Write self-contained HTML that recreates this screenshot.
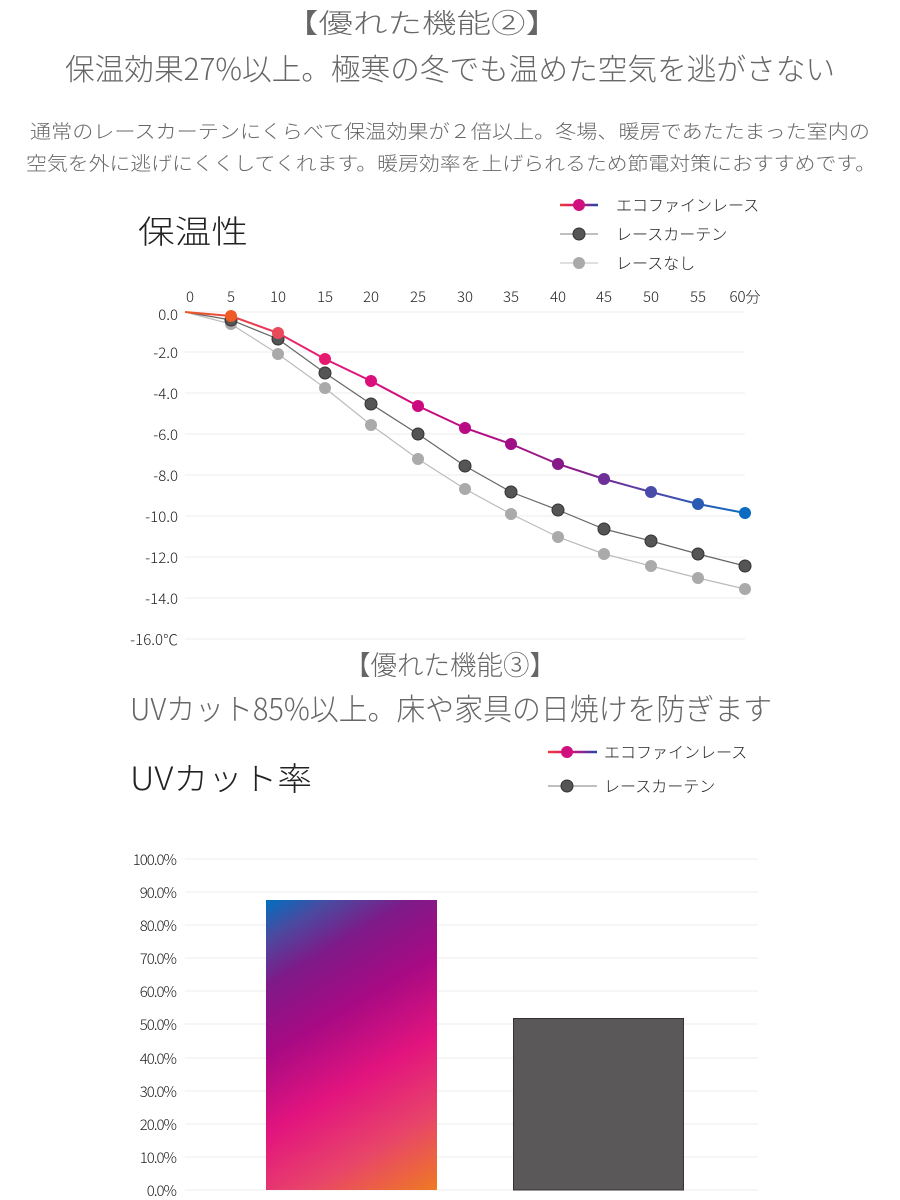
<!DOCTYPE html>
<html><head><meta charset="utf-8"><style>
html,body{margin:0;padding:0;background:#fff;}
svg{display:block;font-family:"Liberation Sans","Noto Sans CJK JP",sans-serif;}
.t{font-family:"Noto Sans CJK JP",sans-serif;font-weight:300;}
</style></head><body>
<svg width="900" height="1200" viewBox="0 0 900 1200" xmlns="http://www.w3.org/2000/svg">
<defs>
<linearGradient id="lg" gradientUnits="userSpaceOnUse" x1="185" y1="0" x2="745" y2="0">
<stop offset="0" stop-color="#ee5a24"/><stop offset="0.25" stop-color="#e6197a"/><stop offset="0.45" stop-color="#c8087f"/><stop offset="0.7" stop-color="#8a1a8a"/><stop offset="0.85" stop-color="#4a4aa8"/><stop offset="1" stop-color="#0a6cc0"/>
</linearGradient>
<linearGradient id="leg1" gradientUnits="userSpaceOnUse" x1="560" y1="0" x2="598" y2="0">
<stop offset="0" stop-color="#ee3a3a"/><stop offset="0.5" stop-color="#d0107f"/><stop offset="1" stop-color="#1a4aa8"/>
</linearGradient>
<linearGradient id="leg2" gradientUnits="userSpaceOnUse" x1="548" y1="0" x2="597" y2="0">
<stop offset="0" stop-color="#ee3a3a"/><stop offset="0.5" stop-color="#d0107f"/><stop offset="1" stop-color="#1a4aa8"/>
</linearGradient>
<linearGradient id="bg" gradientUnits="userSpaceOnUse" x1="437" y1="1190" x2="266" y2="900">
<stop offset="0" stop-color="#ee7a22"/><stop offset="0.2" stop-color="#e8446a"/><stop offset="0.4" stop-color="#e2147e"/><stop offset="0.6" stop-color="#a80a84"/><stop offset="0.78" stop-color="#7e1a88"/><stop offset="0.9" stop-color="#4a4aa0"/><stop offset="1" stop-color="#0070c0"/>
</linearGradient>
</defs>
<g fill="#666" class="t">
<text x="422" y="33" font-size="27" text-anchor="middle" textLength="276" lengthAdjust="spacingAndGlyphs">【優れた機能②】</text>
<text x="450" y="80" font-size="30" text-anchor="middle" textLength="770" lengthAdjust="spacingAndGlyphs">保温効果27%以上。極寒の冬でも温めた空気を逃がさない</text>
<text x="450" y="138" font-size="19" text-anchor="middle" textLength="840" lengthAdjust="spacingAndGlyphs">通常のレースカーテンにくらべて保温効果が２倍以上。冬場、暖房であたたまった室内の</text>
<text x="451" y="170" font-size="19" text-anchor="middle" textLength="850" lengthAdjust="spacingAndGlyphs">空気を外に逃げにくくしてくれます。暖房効率を上げられるため節電対策におすすめです。</text>
<text x="450" y="675" font-size="27" text-anchor="middle" textLength="212" lengthAdjust="spacingAndGlyphs">【優れた機能③】</text>
<text x="451" y="720" font-size="30" text-anchor="middle" textLength="642" lengthAdjust="spacingAndGlyphs">UVカット85%以上。床や家具の日焼けを防ぎます</text>
</g>
<g class="t" fill="#222">
<text x="138" y="243" font-size="32" textLength="110" lengthAdjust="spacingAndGlyphs">保温性</text>
<text x="130" y="790" font-size="32" textLength="182" lengthAdjust="spacingAndGlyphs">UVカット率</text>
</g>
<!-- legend 1 -->
<line x1="560" y1="205" x2="598" y2="205" stroke="url(#leg1)" stroke-width="2.5"/><circle cx="579" cy="205" r="6" fill="#d0107f"/>
<line x1="560" y1="234" x2="598" y2="234" stroke="#999" stroke-width="1.2"/><circle cx="579" cy="234" r="6" fill="#555" stroke="#333"/>
<line x1="560" y1="263" x2="598" y2="263" stroke="#ccc" stroke-width="1.2"/><circle cx="579" cy="263" r="6" fill="#aaa"/>
<g font-size="16" fill="#222" class="t"><text x="616" y="211">エコファインレース</text><text x="616" y="240">レースカーテン</text><text x="616" y="269">レースなし</text></g>
<!-- grid 1 -->
<g stroke="#eee" stroke-width="1">
<line x1="185" y1="312" x2="745" y2="312"/><line x1="185" y1="352" x2="745" y2="352"/><line x1="185" y1="393" x2="745" y2="393"/><line x1="185" y1="434" x2="745" y2="434"/><line x1="185" y1="475" x2="745" y2="475"/><line x1="185" y1="516" x2="745" y2="516"/><line x1="185" y1="557" x2="745" y2="557"/><line x1="185" y1="598" x2="745" y2="598"/><line x1="185" y1="639" x2="745" y2="639"/>
</g>
<g font-size="15" fill="#222" text-anchor="end" class="t">
<text x="178" y="320">0.0</text><text x="178" y="358">-2.0</text><text x="178" y="399">-4.0</text><text x="178" y="440">-6.0</text><text x="178" y="481">-8.0</text><text x="178" y="522">-10.0</text><text x="178" y="563">-12.0</text><text x="178" y="604">-14.0</text><text x="178" y="645">-16.0℃</text>
</g>
<g font-size="15" fill="#222" text-anchor="middle" class="t">
<text x="190" y="302">0</text><text x="231" y="302">5</text><text x="278" y="302">10</text><text x="325" y="302">15</text><text x="371" y="302">20</text><text x="418" y="302">25</text><text x="465" y="302">30</text><text x="511" y="302">35</text><text x="558" y="302">40</text><text x="604" y="302">45</text><text x="651" y="302">50</text><text x="698" y="302">55</text><text x="745" y="302">60分</text>
</g>
<polyline fill="none" stroke="#bbb" stroke-width="1.2" points="185,312 231,324 278,354 325,388 371,425 418,459 465,489 511,514 558,537 604,554 651,566 698,578 745,589"/>
<g fill="#aaa"><circle cx="231" cy="324" r="6"/><circle cx="278" cy="354" r="6"/><circle cx="325" cy="388" r="6"/><circle cx="371" cy="425" r="6"/><circle cx="418" cy="459" r="6"/><circle cx="465" cy="489" r="6"/><circle cx="511" cy="514" r="6"/><circle cx="558" cy="537" r="6"/><circle cx="604" cy="554" r="6"/><circle cx="651" cy="566" r="6"/><circle cx="698" cy="578" r="6"/><circle cx="745" cy="589" r="6"/></g>
<polyline fill="none" stroke="#666" stroke-width="1.2" points="185,312 231,320 278,339 325,373 371,404 418,434 465,466 511,492 558,510 604,529 651,541 698,554 745,566"/>
<g fill="#555" stroke="#333"><circle cx="231" cy="320" r="6"/><circle cx="278" cy="339" r="6"/><circle cx="325" cy="373" r="6"/><circle cx="371" cy="404" r="6"/><circle cx="418" cy="434" r="6"/><circle cx="465" cy="466" r="6"/><circle cx="511" cy="492" r="6"/><circle cx="558" cy="510" r="6"/><circle cx="604" cy="529" r="6"/><circle cx="651" cy="541" r="6"/><circle cx="698" cy="554" r="6"/><circle cx="745" cy="566" r="6"/></g>
<polyline fill="none" stroke="url(#lg)" stroke-width="2" points="185,312 231,316 278,333 325,359 371,381 418,406 465,428 511,444 558,464 604,479 651,492 698,504 745,513"/>
<circle cx="231" cy="316" r="6" fill="#ee5a24"/><circle cx="278" cy="333" r="6" fill="#e84a5a"/><circle cx="325" cy="359" r="6" fill="#e6196f"/><circle cx="371" cy="381" r="6" fill="#dc107c"/><circle cx="418" cy="406" r="6" fill="#cc0a80"/><circle cx="465" cy="428" r="6" fill="#b80a82"/><circle cx="511" cy="444" r="6" fill="#a00e86"/><circle cx="558" cy="464" r="6" fill="#861888"/><circle cx="604" cy="479" r="6" fill="#6c3098"/><circle cx="651" cy="492" r="6" fill="#4a4aa8"/><circle cx="698" cy="504" r="6" fill="#2a5cb4"/><circle cx="745" cy="513" r="6" fill="#0a6cc0"/>
<!-- legend 2 -->
<line x1="548" y1="752" x2="597" y2="752" stroke="url(#leg2)" stroke-width="2.5"/><circle cx="567" cy="752" r="6" fill="#d0107f"/>
<line x1="548" y1="786" x2="597" y2="786" stroke="#999" stroke-width="1.2"/><circle cx="567" cy="786" r="6" fill="#555" stroke="#333"/>
<g font-size="16" fill="#222" class="t"><text x="604" y="758">エコファインレース</text><text x="604" y="792">レースカーテン</text></g>
<g stroke="#eee" stroke-width="1">
<line x1="185" y1="859" x2="758" y2="859"/><line x1="185" y1="892" x2="758" y2="892"/><line x1="185" y1="925" x2="758" y2="925"/><line x1="185" y1="958" x2="758" y2="958"/><line x1="185" y1="991" x2="758" y2="991"/><line x1="185" y1="1024" x2="758" y2="1024"/><line x1="185" y1="1058" x2="758" y2="1058"/><line x1="185" y1="1091" x2="758" y2="1091"/><line x1="185" y1="1124" x2="758" y2="1124"/><line x1="185" y1="1157" x2="758" y2="1157"/><line x1="185" y1="1190" x2="758" y2="1190"/>
</g>
<g font-size="15" fill="#222" text-anchor="end" letter-spacing="-1" class="t">
<text x="176" y="865">100.0%</text><text x="176" y="898">90.0%</text><text x="176" y="931">80.0%</text><text x="176" y="964">70.0%</text><text x="176" y="997">60.0%</text><text x="176" y="1030">50.0%</text><text x="176" y="1064">40.0%</text><text x="176" y="1097">30.0%</text><text x="176" y="1130">20.0%</text><text x="176" y="1163">10.0%</text><text x="176" y="1196">0.0%</text>
</g>
<rect x="266" y="900" width="171" height="290" fill="url(#bg)"/>
<rect x="513.5" y="1018.5" width="170" height="171.5" fill="#5a5859" stroke="#333" stroke-width="1"/>
</svg>
</body></html>
